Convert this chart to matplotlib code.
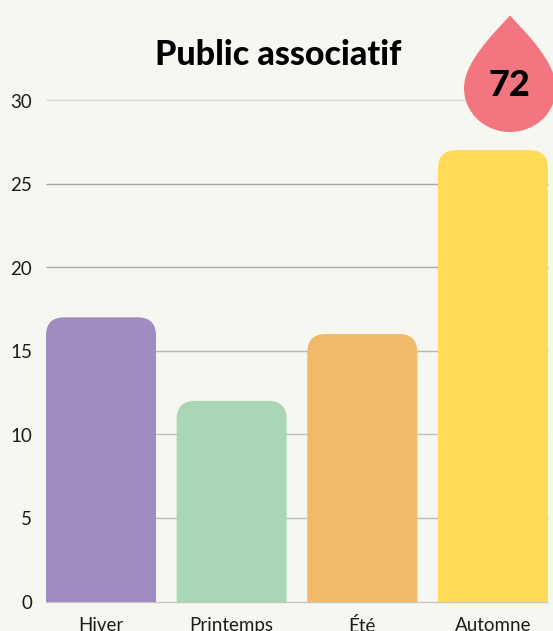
import matplotlib
matplotlib.use('Agg')
import matplotlib.pyplot as plt
from matplotlib.patches import FancyBboxPatch, PathPatch
from matplotlib.path import Path
from matplotlib.transforms import Affine2D

categories = ['Hiver', 'Printemps', 'Été', 'Automne']
values = [17, 12, 16, 27]
bar_colors = ['#a18cc2', '#a9d7b5', '#f2b96a', '#ffdb58']
y_ticks = [0, 5, 10, 15, 20, 25, 30]
grid_colors = ['#c6c6c1', '#bcbcb7', '#c0c0bb', '#b8b8b3', '#aaaaa5', '#a6a6a2', '#dadad5']
title = 'Public associatif'
badge = '72'

BG = '#f7f7f2'
W, H = 553, 631

fig = plt.figure(figsize=(W / 100, H / 100), dpi=100, facecolor=BG)
ax = fig.add_axes([46 / W, 1 - 601.5 / H, 502 / W, 501.5 / H], facecolor=BG)
ax.set_xlim(-0.421, 3.421)
ax.set_ylim(0, 30)

for t, c in zip(y_ticks, grid_colors):
    ax.axhline(t, color=c, lw=1.0, zorder=1, clip_on=False, solid_capstyle='butt')

# rounded top corners only, the bottom corners fall below the axes and get clipped
bar_w = 0.842
rad = 0.14
aspect = (502 / 3.842) / (501.5 / 30)
for i, (v, c) in enumerate(zip(values, bar_colors)):
    p = FancyBboxPatch((i - bar_w / 2 + rad, -5), bar_w - 2 * rad, v + 5 - rad * aspect,
                       boxstyle=f'round,pad={rad},rounding_size={rad}',
                       mutation_aspect=aspect, fc=c, ec='none', zorder=2)
    ax.add_patch(p)

ax.set_xticks(range(len(categories)))
ax.set_xticklabels(categories, fontsize=13.5, family='Lato', color='#1c1c1c')
ax.set_yticks(y_ticks)
ax.set_yticklabels([str(t) for t in y_ticks], fontsize=13.5, family='Lato', color='#1c1c1c', va='center')
ax.tick_params(length=0)
ax.tick_params(axis='x', pad=11)
ax.tick_params(axis='y', pad=10)
for lbl in ax.get_yticklabels():
    lbl.set_transform(lbl.get_transform() + Affine2D().translate(0, -2))
for s in ax.spines.values():
    s.set_visible(False)

fig.text(278.5 / W, 1 - 55 / H, title, ha='center', va='center', fontsize=24.5,
         family='Lato', weight='black', color='black')

# droplet badge, drawn in pixel coordinates from the top left
verts = [(510, 15.5), (494, 33), (464, 62), (464, 88),
         (464, 113), (485, 132), (510, 132),
         (535, 132), (556, 113), (556, 88),
         (556, 62), (526, 33), (510, 15.5)]
codes = [Path.MOVETO] + [Path.CURVE4] * 12
drop = PathPatch(Path(verts, codes), fc='#f3757f', ec='none', zorder=5,
                 transform=Affine2D().scale(1, -1).translate(0, H))
fig.add_artist(drop)
fig.text(509.5 / W, 1 - 86 / H, badge, ha='center', va='center', fontsize=26,
         family='Lato', weight='black', color='black', zorder=6)

fig.savefig('out.png', dpi=100, facecolor=BG)
